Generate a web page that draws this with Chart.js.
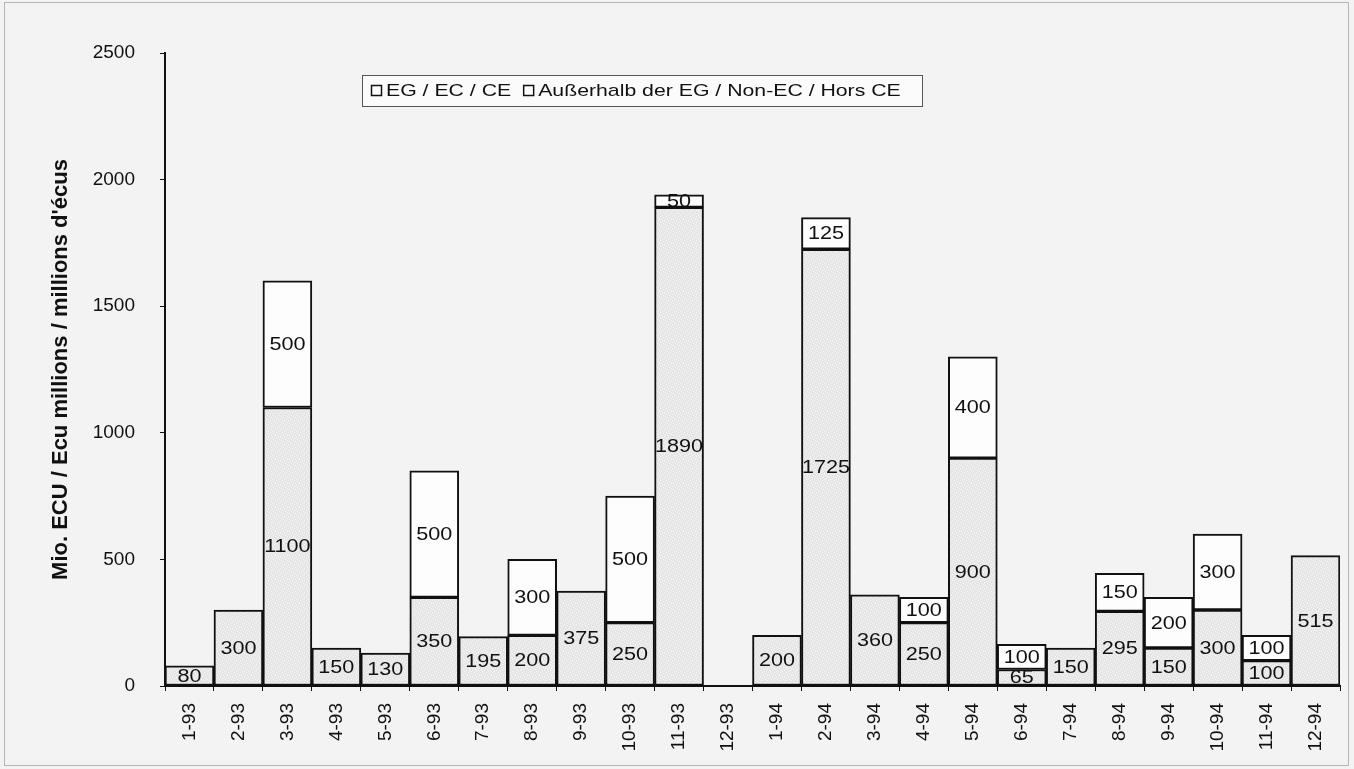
<!DOCTYPE html>
<html><head><meta charset="utf-8">
<script src="https://cdn.jsdelivr.net/npm/chart.js@4.4.1/dist/chart.umd.min.js"></script>
<style>html,body{margin:0;padding:0;background:#f2f2f2;overflow:hidden}</style>
</head><body>
<canvas id="c" width="1354" height="769"></canvas>
<script>
const categories = ['1-93','2-93','3-93','4-93','5-93','6-93','7-93','8-93','9-93','10-93','11-93','12-93',
                    '1-94','2-94','3-94','4-94','5-94','6-94','7-94','8-94','9-94','10-94','11-94','12-94'];
const egValues    = [80,300,1100,150,130,350,195,200,375,250,1890,0, 200,1725,360,250,900,65,150,295,150,300,100,515];
const nonEcValues = [0,0,500,0,0,500,0,300,0,500,50,0, 0,125,0,100,400,100,0,150,200,300,100,0];
const yTicks = [0,500,1000,1500,2000,2500];
const seriesLabels = ['EG / EC / CE','Außerhalb der EG / Non-EC / Hors CE'];
const yTitle = "Mio. ECU / Ecu millions / millions d'écus";

const FONT = '"Liberation Sans", Arial, sans-serif';

// stippled light gray pattern for the EG series
function makePattern(){
  const p = document.createElement('canvas'); p.width = 6; p.height = 6;
  const g = p.getContext('2d');
  g.fillStyle = '#e6e6e6'; g.fillRect(0,0,6,6);
  g.fillStyle = '#f7f7f7';
  [[0,0],[3,1],[1,3],[4,4],[2,5],[5,2]].forEach(([x,y])=>g.fillRect(x,y,1,1));
  return g.createPattern(p,'repeat');
}
const egFill = makePattern();

const bgPlugin = {
  id:'bg',
  beforeDraw(chart){
    const c = chart.ctx;
    c.save(); c.fillStyle = '#f3f3f3'; c.fillRect(0,0,chart.width,chart.height);
    c.strokeStyle = '#b5b5b5'; c.lineWidth = 1;
    c.strokeRect(4.5,2.5,1344,763);
    c.restore();
  }
};

const labelPlugin = {
  id:'vals',
  afterDatasetsDraw(chart){
    const c = chart.ctx;
    chart.data.datasets.forEach((ds,i)=>{
      const meta = chart.getDatasetMeta(i);
      meta.data.forEach((bar,j)=>{
        const v = ds.data[j];
        if(!v) return;
        const {x,y,base} = bar.getProps(['x','y','base'], true);
        c.save();
        c.translate(x,(y+base)/2+1);
        c.scale(1.2,1);
        c.font = '18px ' + FONT;
        c.fillStyle = '#111';
        c.textAlign = 'center'; c.textBaseline = 'middle';
        c.fillText(String(v),0,0);
        c.restore();
      });
    });
  }
};

const legendPlugin = {
  id:'legendBox',
  afterDraw(chart){
    const c = chart.ctx, a = chart.chartArea;
    const left = a.left + 197, top = a.top + 22, w = 560, h = 31;
    c.save();
    c.fillStyle = '#fbfbfb'; c.fillRect(left,top,w,h);
    c.strokeStyle = '#555'; c.lineWidth = 1; c.strokeRect(left+0.5,top+0.5,w,h);
    c.font = '17px ' + FONT; c.fillStyle = '#111'; c.textBaseline = 'middle';
    const sx = 1.25;
    let x = left + 9;
    chart.data.datasets.forEach((ds)=>{
      c.fillStyle = '#fff'; c.fillRect(x, top+10, 11, 11);
      c.strokeStyle = '#111'; c.lineWidth = 1.5; c.strokeRect(x+0.5, top+10.5, 10, 10);
      x += 15;
      c.save(); c.translate(x, top+h/2+1); c.scale(sx,1); c.fillStyle='#111';
      c.fillText(ds.label,0,0); c.restore();
      x += c.measureText(ds.label).width*sx + 12;
    });
    c.restore();
  }
};

new Chart(document.getElementById('c'), {
  type:'bar',
  data:{
    labels: categories,
    datasets:[
      {label:seriesLabels[0], data:egValues, backgroundColor:egFill, borderColor:'#111', borderWidth:2, borderSkipped:false, barPercentage:1, categoryPercentage:1},
      {label:seriesLabels[1], data:nonEcValues, backgroundColor:'#fdfdfd', borderColor:'#111', borderWidth:2, borderSkipped:false, barPercentage:1, categoryPercentage:1}
    ]
  },
  options:{
    responsive:false, animation:false, devicePixelRatio:1,
    layout:{padding:{top:53,right:14,left:44,bottom:0}},
    plugins:{legend:{display:false}, tooltip:{enabled:false}},
    scales:{
      x:{stacked:true,
         grid:{display:true,drawOnChartArea:false,drawTicks:true,tickLength:5,color:'#111',lineWidth:1},
         border:{display:true,color:'#111',width:2},
         ticks:{minRotation:90,maxRotation:90,autoSkip:false,padding:12,color:'#111',font:{family:FONT,size:19}},
         afterFit(s){ s.height = 83; }
      },
      y:{stacked:true,min:0,max:2500,
         afterBuildTicks(s){ s.ticks = yTicks.map(v=>({value:v})); },
         grid:{display:true,drawOnChartArea:false,drawTicks:true,tickLength:5,color:'#111'},
         border:{display:true,color:'#111',width:2},
         ticks:{padding:25,color:'#111',font:{family:FONT,size:19},callback:(v)=>String(v)},
         title:{display:true,text:yTitle,color:'#111',font:{family:FONT,size:22,weight:'bold'}},
         afterFit(s){ s.width = 121; }
      }
    }
  },
  plugins:[bgPlugin,labelPlugin,legendPlugin]
});
</script>
</body></html>
